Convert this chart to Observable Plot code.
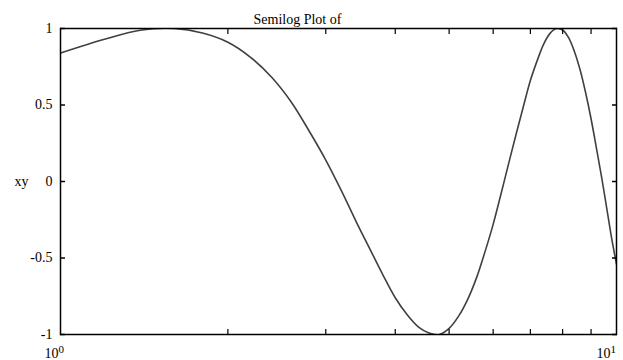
<!DOCTYPE html>
<html>
<head>
<meta charset="utf-8">
<script src="https://cdn.jsdelivr.net/npm/d3@7"></script>
<script src="https://cdn.jsdelivr.net/npm/@observablehq/plot@0.6"></script>
<style>
  html, body { margin: 0; padding: 0; background: #fff; }
  svg { display: block; }
</style>
</head>
<body>
<div id="chart"></div>
<script>
const title = "Semilog Plot of";
const yLabel = "xy";
const xs = [1.0, 1.2, 1.4, 1.6, 1.8, 2.0, 2.2, 2.4, 2.6, 2.8, 3.0, 3.2, 3.4, 3.6, 3.8, 4.0, 4.2, 4.4, 4.6, 4.8, 5.0, 5.2, 5.4, 5.6, 5.8, 6.0, 6.2, 6.4, 6.6, 6.8, 7.0, 7.2, 7.4, 7.6, 7.8, 8.0, 8.2, 8.4, 8.6, 8.8, 9.0, 9.2, 9.4, 9.6, 9.8, 10.0];
const ys = [0.84, 0.93, 0.99, 1.0, 0.97, 0.91, 0.81, 0.68, 0.52, 0.33, 0.14, -0.06, -0.26, -0.44, -0.61, -0.76, -0.87, -0.95, -0.99, -1.0, -0.96, -0.88, -0.77, -0.63, -0.46, -0.28, -0.08, 0.12, 0.31, 0.49, 0.66, 0.79, 0.90, 0.97, 1.0, 0.99, 0.94, 0.85, 0.73, 0.58, 0.41, 0.22, 0.03, -0.17, -0.37, -0.54];
const yTicks = [-1, -0.5, 0, 0.5, 1];
const yTickLabels = ["-1", "-0.5", "0", "0.5", "1"];
const xMinorTicks = [2, 3, 4, 5, 6, 7, 8, 9];
const xMajorTicks = [1, 10];
const xMajorBase = ["10", "10"];
const xMajorExp = ["0", "1"];

const data = xs.map((x, i) => ({x, y: ys[i]}));
const font = "'Liberation Serif', 'Times New Roman', serif";
const majorOffsets = [-2, -6];

const majorLabelMarks = xMajorTicks.flatMap((t, i) => [
  Plot.text([t], {x: (d) => d, frameAnchor: "bottom", text: () => xMajorBase[i],
    textAnchor: "end", lineAnchor: "bottom", dx: majorOffsets[i], dy: 23, fontSize: 14}),
  Plot.text([t], {x: (d) => d, frameAnchor: "bottom", text: () => xMajorExp[i],
    textAnchor: "start", lineAnchor: "bottom", dx: majorOffsets[i], dy: 18, fontSize: 11})
]);

const chart = Plot.plot({
  width: 623,
  height: 360,
  marginLeft: 60,
  marginRight: 7,
  marginTop: 28,
  marginBottom: 26,
  style: {fontFamily: font, fontSize: "14px", color: "black", background: "white"},
  x: {type: "log", domain: [1, 10], axis: null},
  y: {domain: [-1, 1], axis: null},
  marks: [
    Plot.line(data, {x: "x", y: "y", stroke: "#404040", strokeWidth: 1.6, curve: "catmull-rom", clip: true}),
    Plot.frame({stroke: "black", strokeWidth: 1.5}),
    Plot.axisY({anchor: "left", ticks: yTicks, tickSize: -5, text: null, label: null, strokeWidth: 1.5}),
    Plot.axisY({anchor: "right", ticks: yTicks, tickSize: -5, text: null, label: null, strokeWidth: 1.5}),
    Plot.axisY({anchor: "left", ticks: yTicks, tickSize: 0, tickPadding: 8, label: null,
      tickFormat: (d) => yTickLabels[yTicks.indexOf(d)], fontSize: 14}),
    Plot.axisX({anchor: "bottom", ticks: xMinorTicks, tickSize: -5, text: null, label: null, strokeWidth: 1.2}),
    Plot.axisX({anchor: "top", ticks: xMinorTicks, tickSize: -5, text: null, label: null, strokeWidth: 1.2}),
    ...majorLabelMarks,
    Plot.text([yLabel], {frameAnchor: "left", text: (d) => d, dx: -32, textAnchor: "end", fontSize: 14}),
    Plot.text([title], {frameAnchor: "top-left", text: (d) => d, dx: 193, dy: -5, textAnchor: "start", lineAnchor: "bottom", fontSize: 14})
  ]
});
document.getElementById("chart").appendChild(chart);
</script>
</body>
</html>
